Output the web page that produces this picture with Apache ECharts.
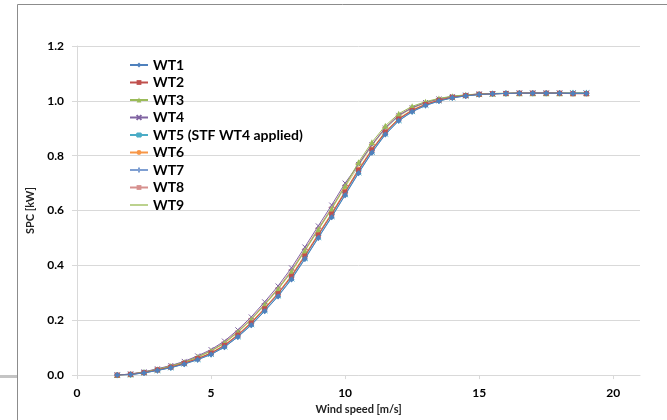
<!DOCTYPE html>
<html>
<head>
<meta charset="utf-8">
<script src="https://cdn.jsdelivr.net/npm/echarts@6/dist/echarts.min.js"></script>
<style>
  html, body { margin: 0; padding: 0; background: #fff; }
  #chart { width: 667px; height: 420px; }
</style>
</head>
<body>
<div id="chart"></div>
<script>
// Wind speed bins [m/s]
const windSpeed = [1.5, 2, 2.5, 3, 3.5, 4, 4.5, 5, 5.5, 6, 6.5, 7, 7.5, 8, 8.5, 9, 9.5, 10,
  10.5, 11, 11.5, 12, 12.5, 13, 13.5, 14, 14.5, 15, 15.5, 16, 16.5, 17, 17.5, 18, 18.5, 19];

// Specific power curves [kW] per turbine
const wt1 = [0.000, 0.002, 0.008, 0.017, 0.027, 0.040, 0.056, 0.075, 0.102, 0.139, 0.182, 0.233,
  0.287, 0.349, 0.423, 0.500, 0.576, 0.656, 0.736, 0.811, 0.877, 0.927, 0.960, 0.983, 0.999,
  1.011, 1.018, 1.023, 1.026, 1.027, 1.028, 1.028, 1.028, 1.028, 1.027, 1.027];
const wt2 = [0.000, 0.003, 0.009, 0.019, 0.029, 0.043, 0.060, 0.080, 0.108, 0.146, 0.190, 0.242,
  0.297, 0.360, 0.434, 0.511, 0.587, 0.667, 0.747, 0.821, 0.885, 0.934, 0.965, 0.987, 1.002,
  1.013, 1.019, 1.024, 1.026, 1.027, 1.028, 1.028, 1.028, 1.028, 1.026, 1.026];
const wt3 = [0.000, 0.003, 0.011, 0.021, 0.033, 0.047, 0.066, 0.088, 0.117, 0.157, 0.203, 0.257,
  0.314, 0.378, 0.454, 0.531, 0.607, 0.690, 0.776, 0.849, 0.909, 0.953, 0.980, 0.997, 1.009,
  1.017, 1.022, 1.025, 1.027, 1.028, 1.028, 1.028, 1.028, 1.028, 1.028, 1.028];
const wt4 = [0.000, 0.004, 0.012, 0.023, 0.035, 0.050, 0.070, 0.093, 0.124, 0.165, 0.212, 0.267,
  0.325, 0.391, 0.467, 0.544, 0.620, 0.700, 0.768, 0.840, 0.901, 0.947, 0.975, 0.994, 1.007,
  1.016, 1.021, 1.025, 1.026, 1.027, 1.028, 1.028, 1.028, 1.028, 1.028, 1.028];
const wt5 = [0.000, 0.002, 0.008, 0.017, 0.027, 0.041, 0.057, 0.076, 0.103, 0.140, 0.184, 0.235,
  0.289, 0.351, 0.425, 0.502, 0.578, 0.658, 0.738, 0.813, 0.879, 0.928, 0.961, 0.984, 1.000,
  1.011, 1.018, 1.023, 1.025, 1.027, 1.028, 1.028, 1.028, 1.028, 1.029, 1.029];
const wt6 = [0.000, 0.003, 0.009, 0.019, 0.030, 0.044, 0.061, 0.081, 0.110, 0.148, 0.193, 0.245,
  0.300, 0.364, 0.438, 0.515, 0.591, 0.671, 0.751, 0.824, 0.888, 0.936, 0.967, 0.988, 1.003,
  1.013, 1.019, 1.024, 1.026, 1.027, 1.028, 1.028, 1.028, 1.028, 1.027, 1.027];
const wt7 = [0.000, 0.002, 0.009, 0.018, 0.029, 0.042, 0.059, 0.079, 0.106, 0.144, 0.188, 0.240,
  0.295, 0.357, 0.432, 0.509, 0.585, 0.665, 0.744, 0.819, 0.883, 0.932, 0.964, 0.986, 1.001,
  1.012, 1.019, 1.023, 1.026, 1.027, 1.028, 1.028, 1.028, 1.028, 1.028, 1.028];
const wt8 = [0.000, 0.004, 0.011, 0.022, 0.033, 0.048, 0.067, 0.089, 0.120, 0.160, 0.206, 0.260,
  0.317, 0.383, 0.458, 0.535, 0.611, 0.691, 0.770, 0.841, 0.903, 0.948, 0.976, 0.994, 1.007,
  1.016, 1.021, 1.025, 1.026, 1.027, 1.028, 1.028, 1.028, 1.028, 1.028, 1.028];
const wt9 = [0.000, 0.003, 0.011, 0.021, 0.032, 0.047, 0.065, 0.087, 0.116, 0.156, 0.202, 0.255,
  0.312, 0.376, 0.452, 0.529, 0.605, 0.685, 0.763, 0.836, 0.898, 0.944, 0.973, 0.992, 1.006,
  1.015, 1.021, 1.024, 1.026, 1.027, 1.028, 1.028, 1.028, 1.028, 1.028, 1.028];

const seriesNames = ['WT1', 'WT2', 'WT3', 'WT4', 'WT5 (STF WT4 applied)', 'WT6', 'WT7', 'WT8', 'WT9'];
const seriesValues = [wt1, wt2, wt3, wt4, wt5, wt6, wt7, wt8, wt9];

const xTicks = [0, 5, 10, 15, 20];

const colors = ['#4F81BD', '#C0504D', '#9BBB59', '#8064A2', '#4BACC6', '#F79646', '#7F9FD2', '#D6908E', '#BCD28E'];

// Marker shapes in the style of spreadsheet line charts
const crossX = 'path://M0,0L10,10M10,0L0,10';
const plus = 'path://M5,0L5,10M0,5L10,5';
const star = 'path://M0,0L10,10M10,0L0,10M5,-1L5,11';
const markers = [
  { symbol: 'diamond', size: 6, stroke: false },
  { symbol: 'rect', size: 5, stroke: false },
  { symbol: 'triangle', size: 6, stroke: false },
  { symbol: crossX, size: 5, stroke: true },
  { symbol: star, size: 6, stroke: true },
  { symbol: 'circle', size: 5, stroke: false },
  { symbol: plus, size: 6, stroke: true },
  { symbol: 'rect', size: [6, 1.5], stroke: false },
  { symbol: 'none', size: 0, stroke: false }
];

const font = 'Lato, "Open Sans", sans-serif';

const series = seriesNames.map((name, i) => {
  const m = markers[i];
  return {
    name: name,
    type: 'line',
    data: windSpeed.map((w, k) => [w, seriesValues[i][k]]),
    symbol: m.symbol,
    symbolSize: m.size,
    showSymbol: m.symbol !== 'none',
    lineStyle: { width: 1, color: colors[i] },
    itemStyle: m.stroke
      ? { color: colors[i], borderColor: colors[i], borderWidth: 1 }
      : { color: colors[i], borderWidth: 0 },
    emphasis: { disabled: true },
    z: 10 - i
  };
});

// Legend entries: the last curve has no marker, so its entry shows only the line
const legendData = seriesNames.map((name, i) =>
  markers[i].symbol === 'none' ? { name: name, itemStyle: { opacity: 0 } } : { name: name });

const chart = echarts.init(document.getElementById('chart'), null, { renderer: 'canvas' });
chart.setOption({
  animation: false,
  color: colors,
  grid: { left: 77, top: 46, right: 27, bottom: 44, containLabel: false },
  legend: {
    orient: 'vertical',
    left: 129,
    top: 58,
    padding: 0,
    itemWidth: 18,
    itemHeight: 6,
    itemGap: 3.5,
    textStyle: { fontFamily: font, fontSize: 14, fontWeight: 'bold', color: '#000', lineHeight: 14 },
    data: legendData
  },
  xAxis: {
    type: 'value',
    min: 0,
    max: 21,
    interval: 5,
    name: 'Wind speed [m/s]',
    nameLocation: 'middle',
    nameGap: 27,
    nameTextStyle: { fontFamily: font, fontSize: 11, fontWeight: 'bold', color: '#222' },
    axisLine: { show: true, lineStyle: { color: '#D9D9D9', width: 1 } },
    axisTick: { show: true, length: 4, inside: false, lineStyle: { color: '#D9D9D9' }, customValues: xTicks },
    axisLabel: {
      customValues: xTicks,
      margin: 12,
      fontFamily: font, fontSize: 12, fontWeight: 'bold', color: '#000'
    },
    splitLine: { show: false }
  },
  yAxis: {
    type: 'value',
    min: 0,
    max: 1.2,
    interval: 0.2,
    name: 'SPC [kW]',
    nameLocation: 'middle',
    nameGap: 30,
    nameRotate: 90,
    nameTextStyle: { fontFamily: font, fontSize: 11, fontWeight: 'bold', color: '#222' },
    axisLine: { show: true, lineStyle: { color: '#D9D9D9', width: 1 } },
    axisTick: { show: true, length: 5, inside: false, lineStyle: { color: '#D9D9D9' } },
    axisLabel: {
      margin: 13,
      formatter: v => v.toFixed(1),
      fontFamily: font, fontSize: 12, fontWeight: 'bold', color: '#000'
    },
    splitLine: { show: true, lineStyle: { color: '#D9D9D9', width: 1 } }
  },
  graphic: [
    {
      type: 'rect',
      shape: { x: 17.5, y: 4.5, width: 660, height: 430 },
      style: { fill: 'none', stroke: '#8C8C8C', lineWidth: 1 },
      silent: true
    },
    {
      type: 'rect',
      shape: { x: 0, y: 375, width: 17, height: 3 },
      style: { fill: '#C4C4C4' },
      silent: true
    }
  ],
  series: series
});
</script>
</body>
</html>
